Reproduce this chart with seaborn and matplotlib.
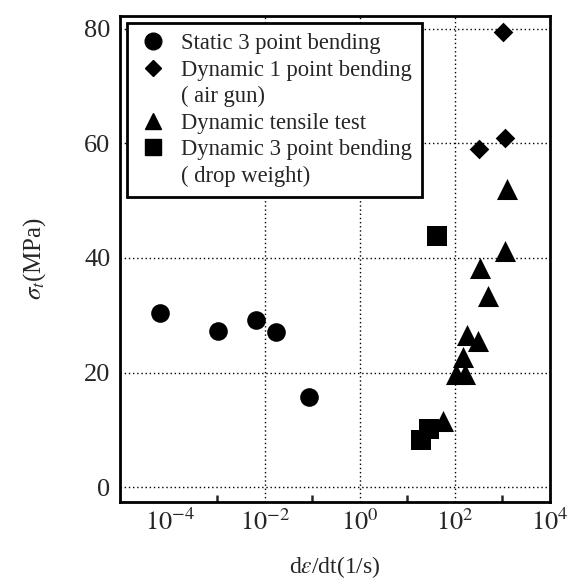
import pandas as pd
import seaborn as sns
import matplotlib.pyplot as plt
import numpy as np
from matplotlib.lines import Line2D
from matplotlib.ticker import NullFormatter

# === Data ===
static_rate = [6.2e-5, 1.04e-3, 6.4e-3, 1.7e-2, 8.5e-2]
static_sigma = [30.4, 27.2, 29.2, 27.0, 15.7]

airgun_rate = [1040, 1120, 320]
airgun_sigma = [79.5, 60.9, 59.1]

tensile_rate = [1250, 1120, 340, 490, 185, 310, 148, 105, 162, 56]
tensile_sigma = [52.0, 41.3, 38.3, 33.3, 26.5, 25.5, 22.7, 19.7, 19.7, 11.5]

drop_rate = [29, 19, 42]
drop_sigma = [10.2, 8.2, 43.8]

groups = ['Static 3 point bending', 'Dynamic 1 point bending', 'Dynamic tensile test', 'Dynamic 3 point bending']

df = pd.DataFrame({
    'rate': static_rate + airgun_rate + tensile_rate + drop_rate,
    'sigma': static_sigma + airgun_sigma + tensile_sigma + drop_sigma,
    'group': [groups[0]] * len(static_rate) + [groups[1]] * len(airgun_rate)
             + [groups[2]] * len(tensile_rate) + [groups[3]] * len(drop_rate),
})

sns.set_theme(style='white')
plt.rcParams['font.family'] = ['Liberation Serif', 'DejaVu Serif']
plt.rcParams['mathtext.fontset'] = 'stix'

fig = plt.figure(figsize=(5.83, 5.83), dpi=100, facecolor='white')
ax = fig.add_axes([0.206, 0.139, 0.737, 0.834])

markers = {groups[0]: 'o', groups[1]: 'D', groups[2]: '^', groups[3]: 's'}
sizes = {groups[0]: 180, groups[1]: 100, groups[2]: 230, groups[3]: 200}
for g in groups:
    sub = df[df['group'] == g]
    sns.scatterplot(data=sub, x='rate', y='sigma', marker=markers[g], s=sizes[g],
                    color='black', edgecolor='black', linewidth=0, ax=ax,
                    legend=False, zorder=3)

ax.set_xscale('log')
ax.set_xlim(10 ** -5.05, 1e4)
ax.set_ylim(-2.6, 82.3)

# dotted grid
for xv in [1e-2, 1e0, 1e2]:
    ax.axvline(xv, color='black', lw=1, ls=(0, (1, 2)), zorder=1)
for yv in [0, 20, 40, 60, 80]:
    ax.axhline(yv, color='black', lw=1, ls=(0, (1, 2)), zorder=1)

ax.set_xticks([1e-4, 1e-2, 1e0, 1e2, 1e4])
ax.set_xticklabels([r'$10^{-4}$', r'$10^{-2}$', r'$10^{0}$', r'$10^{2}$', r'$10^{4}$'])
ax.set_xticks([1e-3, 1e-1, 1e1, 1e3], minor=True)
ax.xaxis.set_minor_formatter(NullFormatter())
ax.set_yticks([0, 20, 40, 60, 80])
ax.tick_params(axis='both', which='major', direction='in', length=9, width=1.8,
               labelsize=19, top=False, right=False)
ax.tick_params(axis='x', which='major', pad=5)
ax.tick_params(axis='x', which='minor', direction='in', length=5, width=1.8,
               top=False, bottom=True)
ax.tick_params(axis='y', which='minor', left=False)
ax.tick_params(axis='y', which='major', pad=7)

for sp in ax.spines.values():
    sp.set_linewidth(2)
    sp.set_color('black')

ax.set_xlabel(r'd$\varepsilon$/dt(1/s)', fontsize=17, labelpad=14)
ax.set_ylabel(r'$\sigma_t$(MPa)', fontsize=18, labelpad=26)

# legend with continuation lines
handles = [
    Line2D([], [], ls='none', marker='o', color='black', markersize=12),
    Line2D([], [], ls='none', marker='D', color='black', markersize=8),
    Line2D([], [], ls='none', marker='none'),
    Line2D([], [], ls='none', marker='^', color='black', markersize=11),
    Line2D([], [], ls='none', marker='s', color='black', markersize=11),
    Line2D([], [], ls='none', marker='none'),
]
labels = [groups[0], groups[1], '( air gun)', groups[2], groups[3], '( drop weight)']
leg = ax.legend(handles, labels, loc='upper left', bbox_to_anchor=(0.016, 0.985),
                fontsize=16.3, frameon=True, fancybox=False, framealpha=1,
                edgecolor='black', handlelength=1.4, handletextpad=0.55,
                labelspacing=0.24, borderpad=0.45, borderaxespad=0)
leg.get_frame().set_linewidth(2)
leg.set_zorder(5)

plt.savefig('out.png', dpi=100)
